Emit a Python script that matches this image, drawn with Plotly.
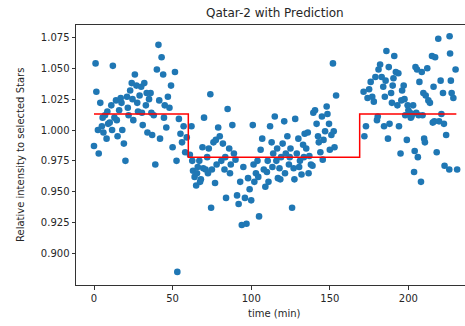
import plotly.graph_objects as go

# ---- data ----
time_min = [
    0, 1, 1.5, 3, 4, 5, 6, 7, 8, 9,
    10, 11, 12, 13, 14, 15, 16, 17, 18, 19,
    20, 21, 22, 23, 24, 25, 26, 27, 28, 29,
    30, 31, 32, 33, 34, 35, 36, 37, 38, 39,
    40, 41, 42, 43, 44, 45, 46, 47, 48, 49,
    50, 51.5, 52.5, 53, 54, 55, 56, 57, 58, 59,
    61, 62, 63, 64, 65, 66, 67, 68, 69, 69.5,
    70, 71, 72, 73, 74, 74.5, 75, 76, 77, 77.5,
    78, 79, 80, 81, 82, 83, 84, 85, 86, 87,
    88, 89, 90, 91, 92, 93, 94, 95, 96, 97,
    98, 99, 100, 101, 102, 103, 104, 105, 106, 107,
    108, 109, 110, 111, 112, 113, 114, 115, 116, 117,
    118, 119, 120, 121, 122, 123, 124, 125, 126, 127,
    128, 129, 130, 131, 132, 133, 134, 135, 136, 137,
    138, 139, 139.5, 140.6, 141.6, 143, 144, 145, 145.5, 146,
    147, 148, 148.5, 150, 151, 152, 152.5, 153, 154,
    171.5, 172, 173, 174, 175, 176, 177, 178, 179, 180, 180.5,
    181, 182, 183, 184, 184.5, 185, 186, 187, 187.5, 188,
    189, 190, 190.5, 191, 192, 193, 193.6, 194, 195, 195.5,
    196, 197, 198, 199, 199.5, 200, 201, 202, 203, 203.6,
    204, 204.5, 205, 205.5, 206, 207, 208, 208.5, 209, 209.5,
    210, 210.5, 211, 212, 212.7, 213.7, 215, 215.5, 216, 216.5,
    217, 218, 219, 219.5, 220.5, 221, 222, 222.6, 223, 224,
    226, 226.2, 226.5, 227, 227.5, 228.6, 230, 231,
    2.5, 5.5, 8.5, 11.5, 14.5, 17.5, 21.5, 24.5, 27.5, 30.5,
    33.5, 36.5, 41.5, 44.5,
    62.5, 65.5, 67.5, 72.5, 83.5, 86.5, 101.5, 104.5, 110.5, 113.5,
    116.5, 118.5, 121.5, 124.5, 127.5, 130.5, 133.5, 136.5, 142.5, 149.5,
    201.5, 202.5, 206.5, 185.5, 189.5, 197.5,
]
rel_intensity = [
    0.987, 1.054, 1.031, 0.981, 1.022, 1.003, 0.998, 1.012, 0.993, 1.005,
    1.006, 1.020, 1.052, 1.010, 1.024, 0.995, 1.016, 1.026, 1.000, 0.989,
    0.975, 1.027, 1.012, 1.032, 1.038, 1.008, 1.045, 1.036, 1.015, 1.028,
    1.035, 1.004, 1.038, 1.020, 0.998, 1.025, 1.030, 0.996, 1.012, 0.972,
    1.049, 1.069, 0.993, 1.059, 1.045, 1.020, 1.002, 1.027, 1.018, 1.036,
    0.986, 1.047, 0.975, 0.885, 1.009, 0.997, 0.990, 1.003, 0.982, 0.994,
    0.980, 1.003, 0.967, 0.962, 0.955, 0.970, 0.975, 0.960, 0.986, 0.969,
    1.010, 0.968, 0.978, 0.985, 1.029, 0.937, 0.968, 0.990, 0.957, 0.992,
    0.972, 1.002, 0.995, 0.975, 0.989, 0.968, 0.945, 1.017, 0.985, 0.972,
    1.004, 0.981, 0.976, 0.947, 0.940, 0.958, 0.923, 0.970, 0.945, 0.924,
    0.961, 0.952, 0.943, 1.004, 0.958, 0.965, 0.975, 0.930, 0.984, 0.993,
    0.968, 0.954, 0.966, 0.958, 1.003, 0.990, 0.981, 1.011, 0.975, 0.961,
    0.969, 0.978, 0.989, 1.007, 0.981, 0.995, 0.972, 0.985, 0.937, 0.969,
    1.009, 0.981, 0.993, 0.975, 0.964, 0.988, 0.997, 0.985, 0.998, 0.979,
    0.972, 0.971, 1.014, 1.016, 1.005, 0.990, 0.982, 1.011, 0.976, 0.992,
    0.999, 1.019, 1.013, 0.984, 0.996, 1.054, 0.999, 0.986, 1.028,
    1.031, 0.995, 1.003, 1.026, 1.033, 1.039, 1.027, 1.023, 1.043, 1.008, 1.011,
    1.049, 1.053, 1.043, 1.035, 1.003, 1.027, 1.064, 0.993, 1.051, 1.005,
    1.030, 1.036, 1.042, 1.060, 1.047, 1.020, 1.046, 1.003, 0.981, 1.024,
    1.032, 1.036, 1.012, 0.992, 1.020, 1.016, 1.014, 1.011, 1.020, 0.966,
    0.983, 1.051, 1.014, 1.049, 0.978, 1.039, 0.958, 1.047, 1.012, 1.030,
    0.993, 0.990, 1.028, 1.050, 1.024, 1.022, 1.060, 1.006, 1.035, 1.007,
    1.059, 0.982, 1.074, 1.007, 1.040, 1.013, 1.030, 1.005, 0.971, 0.996,
    0.968, 1.076, 1.062, 1.040, 1.030, 1.026, 1.049, 0.968,
    1.000, 1.010, 1.015, 1.000, 1.008, 1.022, 1.018, 1.025, 1.022, 1.014,
    1.030, 1.014, 1.024, 1.010,
    0.975, 0.965, 0.958, 0.965, 0.978, 0.965, 0.972, 0.962, 0.975, 0.970,
    0.985, 0.960, 0.965, 0.978, 0.960, 0.970, 0.978, 0.965, 0.995, 1.005,
    1.010, 1.013, 1.012, 1.040, 1.022, 1.025,
]

pred_time = [0, 60, 60, 169, 169, 230.5]
pred_value = [1.013, 1.013, 0.978, 0.978, 1.013, 1.013]

title_text = "Qatar-2 with Prediction"
x_label = "time (min)"
y_label = "Relative intensity to selected Stars"
x_ticks = [0, 50, 100, 150, 200]
y_ticks = [0.900, 0.925, 0.950, 0.975, 1.000, 1.025, 1.050, 1.075]

fig = go.Figure()
fig.add_trace(go.Scatter(
    x=time_min, y=rel_intensity, mode="markers",
    marker=dict(color="#1f77b4", size=6.6, line=dict(width=0)),
    showlegend=False,
))
fig.add_trace(go.Scatter(
    x=pred_time, y=pred_value, mode="lines",
    line=dict(color="red", width=1.5),
    showlegend=False,
))

L, T, B = 76, 25, 41
W, H = 465, 326
pw = W - L
font = "DejaVu Sans, sans-serif"

fig.update_layout(
    width=W, height=H,
    margin=dict(l=L, r=0, t=T, b=B),
    paper_bgcolor="white", plot_bgcolor="white",
    font=dict(family=font, size=10, color="#262626"),
    xaxis=dict(
        range=[-11.45, 236.0], tickvals=x_ticks, ticks="outside", ticklen=3.5,
        tickcolor="#333", showline=True, linecolor="#333", linewidth=1,
        mirror=True, showgrid=False, zeroline=False,
        tickfont=dict(size=10, family=font, color="#262626"),
    ),
    yaxis=dict(
        range=[0.8744, 1.0851], tickvals=y_ticks, tickformat=".3f",
        ticks="outside", ticklen=3.5, tickcolor="#333", showline=True,
        linecolor="#333", linewidth=1, mirror=False, showgrid=False,
        zeroline=False, tickfont=dict(size=10, family=font, color="#262626"),
    ),
    annotations=[
        dict(text=title_text, xref="paper", yref="paper",
             x=(275 - L) / pw, y=1 + (T - 13) / 260, showarrow=False,
             font=dict(size=12, family=font, color="#262626"),
             xanchor="center", yanchor="middle"),
        dict(text=x_label, xref="paper", yref="paper",
             x=(274.5 - L) / pw, y=-(313 - 285) / 260, showarrow=False,
             font=dict(size=10, family=font, color="#262626"),
             xanchor="center", yanchor="middle"),
        dict(text=y_label, xref="paper", yref="paper",
             x=-(L - 20) / pw, y=(285 - 155) / 260, showarrow=False,
             textangle=-90, font=dict(size=10, family=font, color="#262626"),
             xanchor="center", yanchor="middle"),
    ],
)

fig.write_html("out.html")
